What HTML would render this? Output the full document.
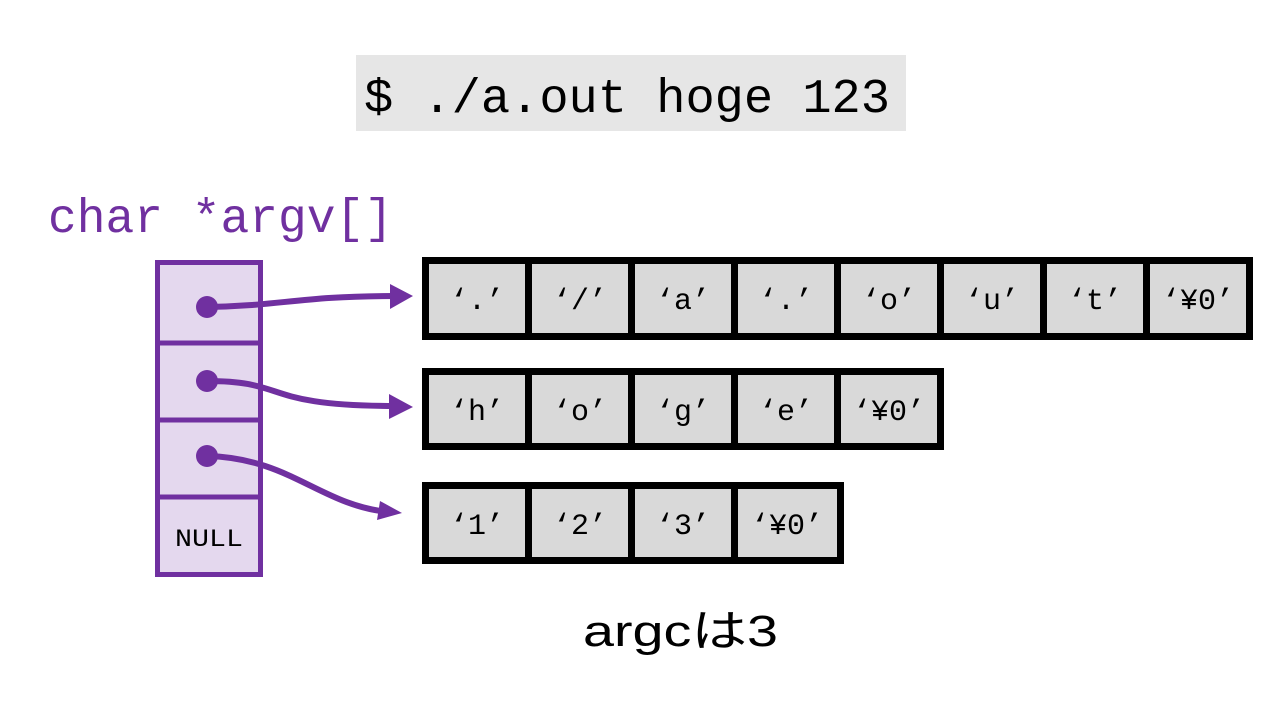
<!DOCTYPE html>
<html><head><meta charset="utf-8"><style>html,body{margin:0;padding:0;background:#fff}svg{display:block}</style></head>
<body>
<svg width="1280" height="720" viewBox="0 0 1280 720" xmlns="http://www.w3.org/2000/svg">
<rect width="1280" height="720" fill="#fff"/>
<rect x="356" y="55" width="550" height="76" fill="#e6e6e6"/>
<text x="364" y="112" font-family="Liberation Mono, monospace" font-size="48" fill="#000" textLength="526" lengthAdjust="spacingAndGlyphs">$ ./a.out hoge 123</text>
<text x="48" y="232" font-family="Liberation Mono, monospace" font-size="48" fill="#7030a0" textLength="345" lengthAdjust="spacingAndGlyphs">char *argv[]</text>
<rect x="157.5" y="262.5" width="103" height="312" fill="#e4d8ee" stroke="#7030a0" stroke-width="5"/>
<line x1="157" y1="343" x2="261" y2="343" stroke="#7030a0" stroke-width="5"/>
<line x1="157" y1="420" x2="261" y2="420" stroke="#7030a0" stroke-width="5"/>
<line x1="157" y1="497" x2="261" y2="497" stroke="#7030a0" stroke-width="5"/>
<text x="175" y="546" font-family="Liberation Mono, monospace" font-size="25" fill="#000" textLength="68" lengthAdjust="spacingAndGlyphs">NULL</text>
<g fill="none" stroke="#7030a0" stroke-width="6">
<path d="M207 307 C 280 306, 300 296, 395 296"/>
<path d="M207 381 C 290 381, 260 406, 395 406"/>
<path d="M207 456 C 290 458, 320 505, 388 512"/>
</g>
<g fill="#7030a0">
<circle cx="207" cy="307" r="11"/>
<circle cx="207" cy="381" r="11"/>
<circle cx="207" cy="456" r="11"/>
<polygon points="390,284 413,296 390,309"/>
<polygon points="389,394 413,407 389,419"/>
<polygon points="380,501 402,513 377,520"/>
</g>
<g font-family="Liberation Mono, monospace" font-size="30" fill="#000" text-anchor="middle">
<rect x="422" y="257" width="831" height="83" fill="#000"/>
<g fill="#d9d9d9">
<rect x="429" y="264" width="96" height="69"/><rect x="532" y="264" width="96" height="69"/>
<rect x="635" y="264" width="96" height="69"/><rect x="738" y="264" width="96" height="69"/>
<rect x="841" y="264" width="96" height="69"/><rect x="944" y="264" width="96" height="69"/>
<rect x="1047" y="264" width="96" height="69"/><rect x="1150" y="264" width="96" height="69"/>
</g>
<text x="477" y="309">‘.’</text><text x="580" y="309">‘/’</text><text x="683" y="309">‘a’</text><text x="786" y="309">‘.’</text>
<text x="889" y="309">‘o’</text><text x="992" y="309">‘u’</text><text x="1095" y="309">‘t’</text><text x="1198" y="309">‘¥0’</text>
<rect x="422" y="368" width="522" height="82" fill="#000"/>
<g fill="#d9d9d9">
<rect x="429" y="375" width="96" height="68"/><rect x="532" y="375" width="96" height="68"/>
<rect x="635" y="375" width="96" height="68"/><rect x="738" y="375" width="96" height="68"/>
<rect x="841" y="375" width="96" height="68"/>
</g>
<text x="477" y="420">‘h’</text><text x="580" y="420">‘o’</text><text x="683" y="420">‘g’</text><text x="786" y="420">‘e’</text><text x="889" y="420">‘¥0’</text>
<rect x="422" y="482" width="422" height="82" fill="#000"/>
<g fill="#d9d9d9">
<rect x="429" y="489" width="96" height="68"/><rect x="532" y="489" width="96" height="68"/>
<rect x="635" y="489" width="96" height="68"/><rect x="738" y="489" width="99" height="68"/>
</g>
<text x="477" y="534">‘1’</text><text x="580" y="534">‘2’</text><text x="683" y="534">‘3’</text><text x="787" y="534">‘¥0’</text>
</g>
<text x="583" y="646" font-family="Liberation Sans, Noto Sans CJK JP, sans-serif" font-size="44" fill="#000" textLength="195" lengthAdjust="spacingAndGlyphs">argcは3</text>
</svg>
</body></html>
